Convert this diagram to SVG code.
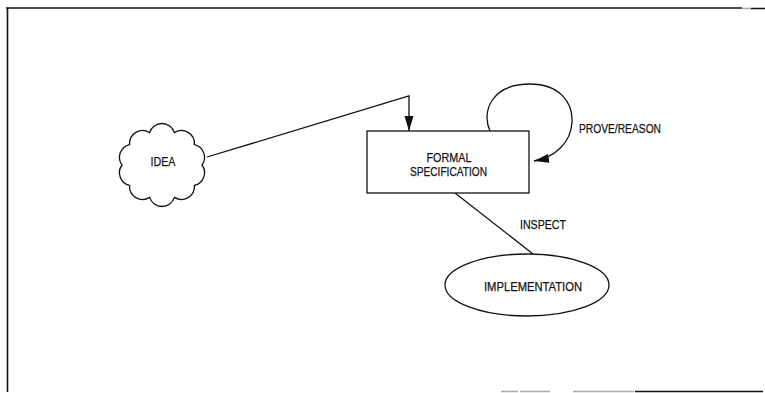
<svg xmlns="http://www.w3.org/2000/svg" width="765" height="393" viewBox="0 0 765 393">
  <style>
    .frame { stroke: #111; stroke-width: 1.6; fill: none; }
    .frame-faint { stroke: #aaa; stroke-width: 1.6; fill: none; }
    .shape { stroke: #111; stroke-width: 1.3; fill: #fff; }
    .edge { stroke: #111; stroke-width: 1.3; fill: none; }
    .label { font-family: "Liberation Sans", Arial, sans-serif; font-size: 13.5px; fill: #111; stroke: #111; stroke-width: 0.25; }
    .mid { text-anchor: middle; }
  </style>
  <defs>
    <marker id="arrow" markerWidth="16" markerHeight="10" refX="15" refY="5" orient="auto" markerUnits="userSpaceOnUse">
      <path d="M0,0.5 L15,5 L0,9.5 Z" fill="#111"/>
    </marker>
  </defs>

  <rect width="765" height="393" fill="#fff"/>

  <!-- page border -->
  <g id="border">
    <path class="frame" d="M6,8 H742 M751,8.5 H765"/>
    <path class="frame-faint" d="M742,8.5 H751"/>
    <path class="frame" d="M7.5,8 V392"/>
    <path class="frame-faint" d="M501,391.5 H518 M520,391.5 H550 M573,391.5 H634"/>
    <path class="frame" d="M635,391.5 H763"/>
  </g>

  <!-- connectors -->
  <g id="connectors">
    <path class="edge" d="M207,157 L409,96 L409,131" marker-end="url(#arrow)"/>
    <path class="edge" d="M490,131 C 481,111 492,84 530,84 C 560,84 573,103 572,122 C 571,142 556,157 534,161" marker-end="url(#arrow)"/>
    <path class="edge" d="M455,193 L533,254"/>
    <text class="label" x="579" y="133" textLength="82" lengthAdjust="spacingAndGlyphs">PROVE/REASON</text>
    <text class="label" x="520" y="229" textLength="46" lengthAdjust="spacingAndGlyphs">INSPECT</text>
  </g>

  <!-- IDEA (cloud) -->
  <g id="idea">
    <path class="shape" d="M202,165 A13,13 0 0 1 194.4,185.4 A13,13 0 0 1 174.4,197.4 A13,13 0 0 1 149.6,197.4 A13,13 0 0 1 129.6,185.4 A13,13 0 0 1 122,165 A13,13 0 0 1 129.6,144.6 A13,13 0 0 1 149.6,132.6 A13,13 0 0 1 174.4,132.6 A13,13 0 0 1 194.4,144.6 A13,13 0 0 1 202,165 Z"/>
    <text class="label mid" x="163" y="166" textLength="25" lengthAdjust="spacingAndGlyphs">IDEA</text>
  </g>

  <!-- FORMAL SPECIFICATION -->
  <g id="formal-specification">
    <rect class="shape" x="367" y="131" width="162" height="62"/>
    <text class="label mid" x="449" y="162" textLength="45" lengthAdjust="spacingAndGlyphs">FORMAL</text>
    <text class="label mid" x="448.5" y="176" textLength="77" lengthAdjust="spacingAndGlyphs">SPECIFICATION</text>
  </g>

  <!-- IMPLEMENTATION -->
  <g id="implementation">
    <ellipse class="shape" cx="527" cy="285" rx="82" ry="31"/>
    <text class="label mid" x="533" y="291" textLength="98" lengthAdjust="spacingAndGlyphs">IMPLEMENTATION</text>
  </g>
</svg>
